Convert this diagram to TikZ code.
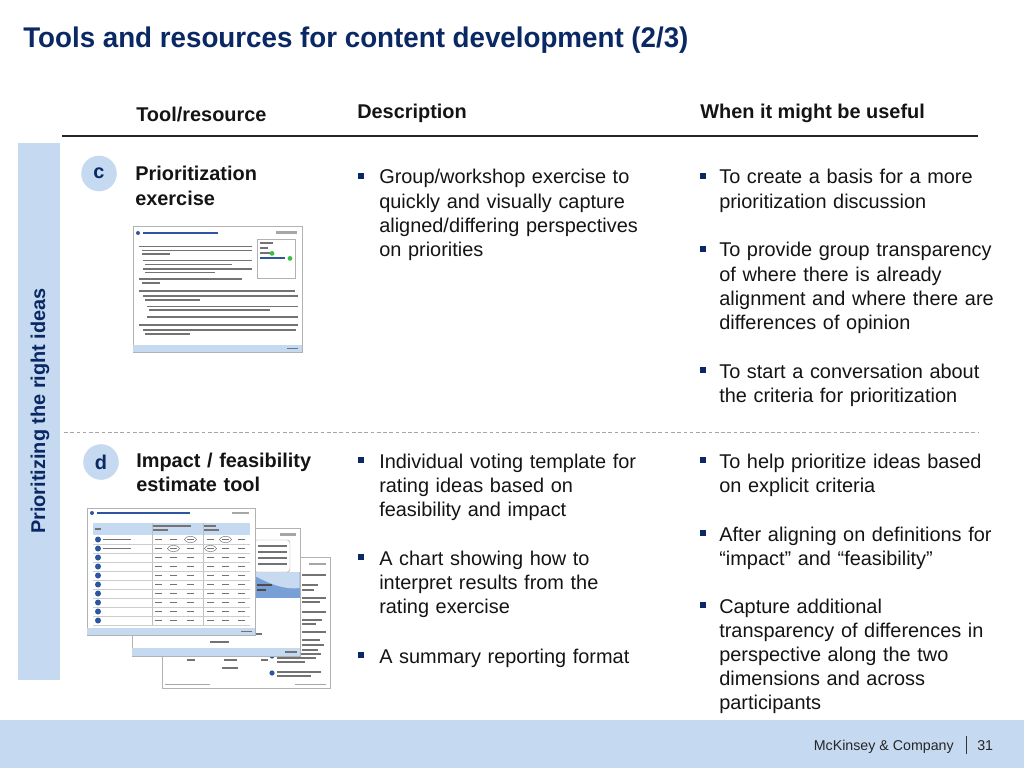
\documentclass[tikz,border=0pt]{standalone}
\usepackage{fontspec}
\setmainfont{Liberation Sans}
\newfontfamily\titlefont[FakeStretch=0.975]{Liberation Sans}
\definecolor{navy}{RGB}{10,40,100}
\definecolor{lightblue}{RGB}{197,217,241}
\definecolor{bodytext}{RGB}{20,20,20}
\definecolor{thumbblue}{RGB}{45,85,160}
\definecolor{midblue}{RGB}{120,160,215}
\definecolor{paleblue}{RGB}{200,218,240}
\definecolor{greenish}{RGB}{60,190,70}
\begin{document}
\begin{tikzpicture}[x=0.703125pt,y=-0.703125pt,
  body/.style={anchor=base west, inner sep=0pt, align=left, text width=210pt, text=bodytext,
    font={\fontsize{14}{17.05}\selectfont}},
  toolname/.style={anchor=base west, inner sep=0pt, align=left, text width=140pt, text=bodytext,
    font={\fontsize{14}{17.05}\selectfont\bfseries}},
  colhead/.style={anchor=base west, inner sep=0pt, text=bodytext, font={\fontsize{14}{17}\selectfont\bfseries}},
  bul/.style={fill=navy, draw=none, minimum size=4pt, inner sep=0pt},
  badge/.style={circle, fill=lightblue, draw=none, minimum size=25pt, inner sep=0pt, text=navy,
    font={\fontsize{14}{17}\selectfont\bfseries}},
  sheet/.style={draw=black!30, fill=white, line width=0.4pt},
  tb/.style={fill=black!55, draw=none},
  tbl/.style={fill=black!35, draw=none},
  tbb/.style={fill=thumbblue, draw=none}]
\useasboundingbox (0,0) rectangle (1024,768);
\fill[white] (0,0) rectangle (1024,768);

% title
\node[anchor=base west, inner sep=0pt, text=navy, font={\fontsize{20}{24}\titlefont\bfseries}] (title) at (23,48)
  {Tools and resources for content development (2/3)};

% column headers
\node[colhead] (h1) at (136,122) {Tool/resource};
\node[colhead] (h2) at (357,119) {Description};
\node[colhead] (h3) at (700,119) {When it might be useful};
\coordinate (ruleL) at (62,136);
\coordinate (ruleR) at (978,136);
\draw[line width=1pt, black!85] (ruleL) -- (ruleR);

% sidebar
\fill[lightblue] (18,143) rectangle (60,680);
\node[rotate=90, inner sep=0pt, text=navy, font={\fontsize{14}{17}\selectfont\bfseries}] (side) at (40,411)
  {Prioritizing the right ideas};

% separator
\coordinate (dashL) at (64,432);
\coordinate (dashR) at (978,432);
\draw[black!35, line width=0.6pt, dash pattern=on 2.6pt off 1.8pt] (dashL) -- (dashR);

% row c
\node[badge] (bc) at (99,173.5) {c};
\node[toolname] (tc) at (135,181) {Prioritization\\exercise};
\node[bul] (bdc) at (361,176) {};
\node[body] (dc) at (379,184) {Group/workshop exercise to\\quickly and visually capture\\aligned/differing perspectives\\on priorities};
\node[bul] (bwc1) at (703,176) {};
\node[body] (wc1) at (719,184) {To create a basis for a more\\prioritization discussion};
\node[bul] (bwc2) at (703,249) {};
\node[body] (wc2) at (719,257) {To provide group transparency\\of where there is already\\alignment and where there are\\differences of opinion};
\node[bul] (bwc3) at (703,370) {};
\node[body] (wc3) at (719,378) {To start a conversation about\\the criteria for prioritization};

% row d
\node[badge] (bd) at (101,462) {d};
\node[toolname] (td) at (136,467.5) {Impact / feasibility\\estimate tool};
\node[bul] (bdd1) at (361,460) {};
\node[body] (dd1) at (379,468) {Individual voting template for\\rating ideas based on\\feasibility and impact};
\node[bul] (bdd2) at (361,557) {};
\node[body] (dd2) at (379,565) {A chart showing how to\\interpret results from the\\rating exercise};
\node[bul] (bdd3) at (361,655) {};
\node[body] (dd3) at (379,663) {A summary reporting format};
\node[bul] (bwd1) at (703,460) {};
\node[body] (wd1) at (719,468) {To help prioritize ideas based\\on explicit criteria};
\node[bul] (bwd2) at (703,533) {};
\node[body] (wd2) at (719,541) {After aligning on definitions for\\“impact” and “feasibility”};
\node[bul] (bwd3) at (703,605) {};
\node[body] (wd3) at (719,613) {Capture additional\\transparency of differences in\\perspective along the two\\dimensions and across\\participants};

% thumbnail 1 (prioritization exercise slide)
\draw[sheet] (133,226) rectangle (302,352);
\fill[tbb] (138,233) circle (2);
\fill[tbb] (143,231.8) rectangle (218,234.2);
\fill[tbl] (276,231.5) rectangle (297,233.8);
\draw[black!30, line width=0.3pt] (257,239) rectangle (295,278);
\fill[tb] (260,242.5) rectangle (273,244.5);
\fill[tb] (260,247.5) rectangle (268,249.3);
\fill[tb] (260,252.5) rectangle (270,254.3);
\fill[greenish] (272,253.4) circle (2.4);
\fill[tbb] (260,257.5) rectangle (285,259.3);
\fill[greenish] (290,258.4) circle (2.4);
\foreach \y/\a/\b in {246.5/139/252, 250.5/142/252, 254/142/170, 260.5/143/252, 264.5/145/232, 269/143/252, 272.5/145/215,
   279/139/242, 283/142/160, 291/139/295, 296/143/298, 300/145/200, 306.5/147/298, 310/149/270, 317/147/298,
   325/139/298, 330/143/296, 334/145/190}
  \fill[tb] (\a,\y-0.9) rectangle (\b,\y+0.9);
\fill[lightblue] (133.4,345) rectangle (301.6,351.6);
\fill[tb] (287,347.6) rectangle (298,349.2);

% thumbnail 2: back sheet
\draw[sheet] (162,557) rectangle (330,688);
\fill[tbl] (309,562.5) rectangle (326,565);
\foreach \y/\b in {575/326, 585/318, 590/314, 598/326, 602/320, 612/326, 620/322, 624/316, 632/326, 640/320, 645/324, 650/318}
  \fill[tb] (302,\y-0.8) rectangle (\b,\y+0.8);
\draw[black!40, line width=0.3pt] (175,655) -- (268,655);
\fill[tb] (187,659.2) rectangle (195,661);
\fill[tb] (224,659.2) rectangle (237,661);
\fill[tb] (261,659.2) rectangle (268,661);
\fill[tb] (222,667.2) rectangle (238,669);
\fill[tbb] (272,656) circle (2.6);
\fill[tb] (277,653.2) rectangle (321,654.8);
\fill[tb] (277,657.2) rectangle (316,658.8);
\fill[tb] (277,661.2) rectangle (305,662.8);
\fill[tbb] (272,673) circle (2.6);
\fill[tb] (277,671.2) rectangle (321,672.8);
\fill[tb] (277,675.2) rectangle (311,676.8);
\fill[tbl] (165,683.5) rectangle (210,685.2);
\fill[tbl] (295,683.5) rectangle (326,685.2);

% thumbnail 2: middle sheet
\draw[sheet] (132,528) rectangle (300,656);
\fill[tbl] (280,533) rectangle (296,535.5);
\fill[midblue] (255,572) rectangle (299.6,598);
\fill[paleblue] (255,572) -- (299.6,572) -- (299.6,588) .. controls (285,590) and (270,584) .. (255,576) -- cycle;
\draw[black!35, fill=white, rounded corners=2, line width=0.3pt] (254,540) rectangle (290,572);
\foreach \y in {546, 552, 558, 564}
  \fill[tb] (258,\y-0.8) rectangle (287,\y+0.8);
\fill[black!70] (257,584) rectangle (272,586);
\fill[black!70] (257,589) rectangle (266,591);
\fill[tb] (256,632.5) rectangle (262,634.5);
\fill[tb] (210,640.5) rectangle (229,642.5);
\fill[lightblue] (132.4,648) rectangle (299.6,655.6);
\fill[tb] (285,651) rectangle (297,652.6);

% thumbnail 2: front sheet (participant worksheet)
\draw[sheet] (87,508) rectangle (255,635);
\fill[tbb] (92,513) circle (2);
\fill[tbb] (97,511.8) rectangle (190,514.2);
\fill[tbl] (232,511.5) rectangle (249,513.8);
\fill[lightblue] (93,523) rectangle (250,535);
\fill[tb] (95,528) rectangle (101,530);
\fill[tb] (153,525) rectangle (191,527);
\fill[tb] (153,529) rectangle (168,531);
\fill[tb] (204,525) rectangle (216,527);
\fill[tb] (204,529) rectangle (219,531);
\draw[black!25, line width=0.3pt] (152,523) -- (152,625);
\draw[black!25, line width=0.3pt] (203,523) -- (203,625);
\foreach \i in {0,...,9} {
  \pgfmathsetmacro{\yc}{539.5+9*\i}
  \fill[tbb] (98,\yc) circle (3);
  \draw[black!20, line width=0.3pt] (93,\yc+4.5) -- (250,\yc+4.5);
  \foreach \x in {155,170,187,207,222,238}
    \fill[tb] (\x,\yc-0.8) rectangle (\x+7,\yc+0.8);
}
\fill[tb] (103,538.7) rectangle (131,540.3);
\fill[tb] (103,547.7) rectangle (131,549.3);
\draw[black!60, line width=0.3pt] (190.5,539.5) ellipse (6 and 3);
\draw[black!60, line width=0.3pt] (225.5,539.5) ellipse (6 and 3);
\draw[black!60, line width=0.3pt] (173.5,548.5) ellipse (6 and 3);
\draw[black!60, line width=0.3pt] (210.5,548.5) ellipse (6 and 3);
\fill[lightblue] (87.4,628) rectangle (254.6,634.6);
\fill[tb] (241,630.6) rectangle (252,632.2);

% footer
\fill[lightblue] (0,720) rectangle (1024,768);
\node[anchor=base east, inner sep=0pt, text=black!85, font={\fontsize{10}{12}\selectfont}] (mck) at (954,750) {McKinsey \& Company};
\node[anchor=base west, inner sep=0pt, text=black!85, font={\fontsize{10}{12}\selectfont}] (pg) at (977,750) {31};
\coordinate (sepT) at (966,736);
\coordinate (sepB) at (966,754);
\draw[black!80, line width=0.5pt] (sepT) -- (sepB);
\end{tikzpicture}
\end{document}
